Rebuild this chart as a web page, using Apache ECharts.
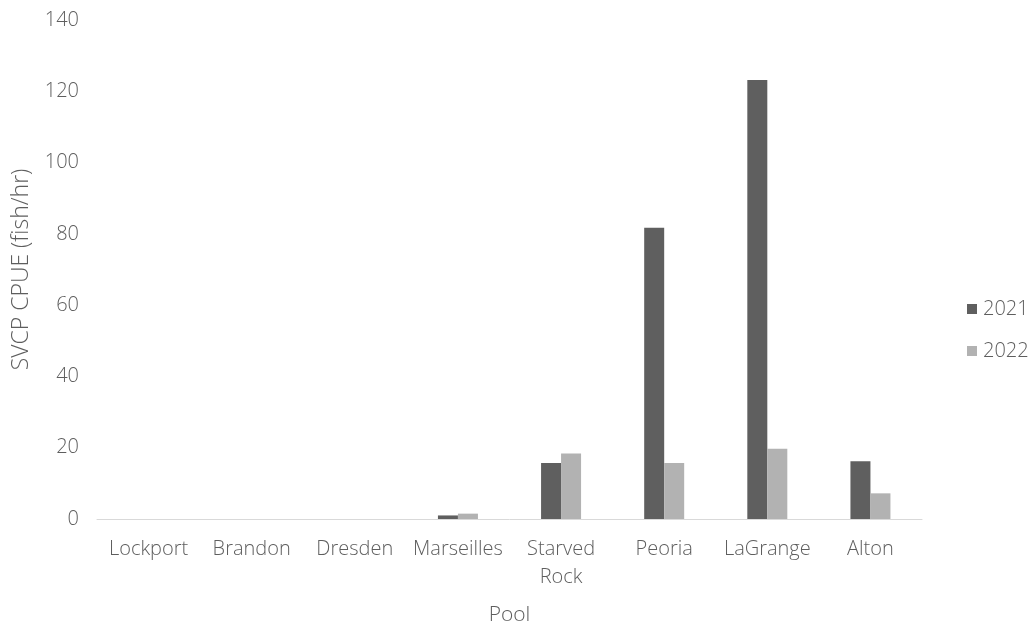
<!DOCTYPE html>
<html>
<head>
<meta charset="utf-8">
<script src="https://cdn.jsdelivr.net/npm/echarts@6/dist/echarts.min.js"></script>
<style>
html,body{margin:0;padding:0;background:#fff;}
#chart{width:1030px;height:631px;}
</style>
</head>
<body>
<div id="chart"></div>
<script>
var categories = ['Lockport', 'Brandon', 'Dresden', 'Marseilles', 'Starved\nRock', 'Peoria', 'LaGrange', 'Alton'];
var values2021 = [0, 0, 0, 1.0, 15.7, 81.7, 123.2, 16.2];
var values2022 = [0, 0, 0, 1.5, 18.4, 15.7, 19.7, 7.2];
var seriesNames = ['2021', '2022'];

var font = 'Open Sans';
var textColor = '#5e5e5e';
var chart = echarts.init(document.getElementById('chart'));
chart.setOption({
  animation: false,
  backgroundColor: '#ffffff',
  textStyle: { fontFamily: font, color: textColor, fontWeight: 300 },
  grid: { left: 97, right: 108, top: 20, bottom: 107, containLabel: false },
  legend: {
    orient: 'vertical',
    left: 962,
    top: 294,
    itemWidth: 10,
    itemHeight: 10,
    itemGap: 22,
    icon: 'rect',
    textStyle: { fontFamily: font, fontSize: 20, fontWeight: 300, color: textColor, padding: [0, 0, 0, 1] },
    data: seriesNames
  },
  xAxis: {
    type: 'category',
    data: categories,
    name: 'Pool',
    nameLocation: 'middle',
    nameGap: 86,
    nameTextStyle: { fontFamily: font, fontSize: 21, fontWeight: 300, color: textColor },
    axisLine: { lineStyle: { color: '#d9d9d9', width: 1 } },
    axisTick: { show: false },
    axisLabel: { fontFamily: font, fontSize: 20, fontWeight: 300, color: textColor, margin: 16, lineHeight: 28, interval: 0 }
  },
  yAxis: {
    type: 'value',
    min: 0,
    max: 140,
    interval: 20,
    name: 'SVCP CPUE (fish/hr)',
    nameLocation: 'middle',
    nameGap: 64,
    nameRotate: 90,
    nameTextStyle: { fontFamily: font, fontSize: 23, fontWeight: 300, color: textColor },
    axisLine: { show: false },
    axisTick: { show: false },
    splitLine: { show: false },
    axisLabel: { fontFamily: font, fontSize: 20, fontWeight: 300, color: textColor, margin: 18 }
  },
  series: [
    {
      name: seriesNames[0],
      type: 'bar',
      data: values2021,
      barWidth: 20,
      barGap: '0%',
      itemStyle: { color: '#5f5f5f' }
    },
    {
      name: seriesNames[1],
      type: 'bar',
      data: values2022,
      barWidth: 20,
      barGap: '0%',
      itemStyle: { color: '#b2b2b2' }
    }
  ]
});
</script>
</body>
</html>
